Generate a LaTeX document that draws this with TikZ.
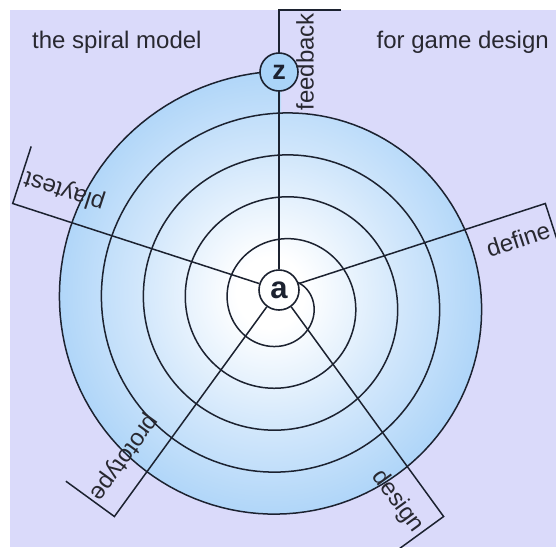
\documentclass[tikz,border=0pt]{standalone}
\usepackage{fontspec}
\setmainfont{Liberation Sans}
\definecolor{spiralBack}{RGB}{218,218,250}
\definecolor{spiralBlue}{RGB}{155,203,247}
\definecolor{spiralMid}{RGB}{208,230,251}
\definecolor{spiralZ}{RGB}{170,212,248}
\definecolor{spiralInk}{RGB}{28,34,48}
\definecolor{spiralText}{RGB}{40,40,48}
\pgfdeclareradialshading{spiralShade}{\pgfpoint{0bp}{0bp}}{color(0bp)=(white); color(4bp)=(white); color(16bp)=(spiralMid); color(31bp)=(spiralBlue); color(50bp)=(spiralBlue)}
% radius of the spiral after #1 degrees (42 per turn)
\newcommand{\spiralRad}[1]{(22+0.116667*#1)}
\tikzset{
  spiralLine/.style={draw=spiralInk, line width=1.5pt},
  spoke/.style={draw=spiralInk, line width=1.5pt},
  hub/.style={circle, draw=spiralInk, line width=1.6pt, minimum size=40pt, inner sep=0pt, text=spiralInk, font=\bfseries},
  tag/.style={inner sep=0pt, text=spiralText, font=\fontsize{24}{24}\selectfont},
}

\begin{document}
\begin{tikzpicture}[x=1pt,y=-1pt]
\useasboundingbox (0,0) rectangle (556,547);
\clip (0,0) rectangle (556,547);
\fill[white] (0,0) rectangle (556,547);
\fill[spiralBack] (10,10) rectangle (556,547);
% body of the spiral
\shade[shading=spiralShade] plot[domain=1440:1800, samples=150, variable=\t] ({281+\spiralRad{\t}*sin(\t)},{303-\spiralRad{\t}*cos(\t)}) -- cycle;
% the spiral line
\draw[spiralLine] plot[domain=38:1800, samples=700, variable=\t] ({281+\spiralRad{\t}*sin(\t)},{303-\spiralRad{\t}*cos(\t)});
\node[hub, fill=white, font=\fontsize{31}{31}\selectfont\bfseries] (a) at (279,290) {a};
% spoke ends and ticks
\coordinate (feedbackEnd) at (279,10);
\coordinate (feedbackTick) at (341,10);
\coordinate (defineEnd) at (545.3,203.5);
\coordinate (defineTick) at (563.8,260.6);
\coordinate (designEnd) at (443.6,516.5);
\coordinate (designTick) at (395.1,551.8);
\coordinate (prototypeEnd) at (114.4,516.5);
\coordinate (prototypeTick) at (65.9,481.2);
\coordinate (playtestEnd) at (12.7,203.5);
\coordinate (playtestTick) at (31.2,146.4);
\draw[spoke] (a) -- (feedbackEnd) -- (feedbackTick);
\draw[spoke] (a) -- (defineEnd) -- (defineTick);
\draw[spoke] (a) -- (designEnd) -- (designTick);
\draw[spoke] (a) -- (prototypeEnd) -- (prototypeTick);
\draw[spoke] (a) -- (playtestEnd) -- (playtestTick);
\node[hub, fill=spiralZ, minimum size=38pt, font=\fontsize{27}{27}\selectfont\bfseries] (z) at (279,72) {z};
% labels
\node[tag, rotate=90, anchor=north east] (feedback) at (296,13) {feedback};
\node[tag, rotate=18, anchor=north east] (define) at (546.5,220.5) {define};
\node[tag, rotate=-54, anchor=north east] (design) at (427.5,523.5) {design};
\node[tag, rotate=-126, anchor=north east] (prototype) at (102.5,503.5) {prototype};
\node[tag, rotate=162, anchor=north east] (playtest) at (21.5,188.5) {playtest};
% titles
\node[tag, anchor=base west] (title) at (32,48) {the spiral model};
\node[tag, anchor=base east] (subtitle) at (549,48) {for game design};
\end{tikzpicture}
\end{document}
